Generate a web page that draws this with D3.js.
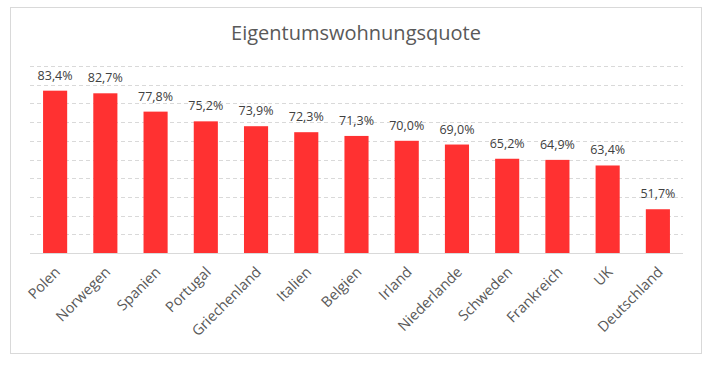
<!DOCTYPE html>
<html>
<head>
<meta charset="utf-8">
<script src="https://cdn.jsdelivr.net/npm/d3@7"></script>
<style>
  body { margin: 0; background: #fff; }
  svg { font-family: "Open Sans", sans-serif; }
</style>
</head>
<body>
<svg id="chart" width="709" height="372"></svg>
<script>
// chart data
var countries = ["Polen", "Norwegen", "Spanien", "Portugal", "Griechenland", "Italien",
  "Belgien", "Irland", "Niederlande", "Schweden", "Frankreich", "UK", "Deutschland"];
var quote = [83.4, 82.7, 77.8, 75.2, 73.9, 72.3, 71.3, 70.0, 69.0, 65.2, 64.9, 63.4, 51.7];
var yTicks = [40, 45, 50, 55, 60, 65, 70, 75, 80, 85, 90];
var title = "Eigentumswohnungsquote";

var svg = d3.select("#chart");

// outer frame
svg.append("rect")
  .attr("x", 10.5).attr("y", 7.5)
  .attr("width", 691).attr("height", 346)
  .attr("fill", "#fff")
  .attr("stroke", "#d9d9d9");

svg.append("text")
  .attr("x", 356).attr("y", 40)
  .attr("text-anchor", "middle")
  .attr("font-size", 20)
  .attr("fill", "#595959")
  .text(title);

xScale = d3.scaleBand()
  .domain(countries)
  .range([30, 683])
  .paddingInner(0.52)
  .paddingOuter(0.26);

yScale = d3.scaleLinear()
  .domain([40, 90])
  .range([253, 66]);

// dashed gridlines (not the baseline)
svg.append("g")
  .selectAll("line")
  .data(yTicks.slice(1))
  .join("line")
  .attr("x1", 30).attr("x2", 683)
  .attr("y1", function (d) { return Math.round(yScale(d)) + 0.5; })
  .attr("y2", function (d) { return Math.round(yScale(d)) + 0.5; })
  .attr("stroke", "#d9d9d9")
  .attr("stroke-dasharray", "4,3");

svg.append("g")
  .selectAll("rect")
  .data(quote)
  .join("rect")
  .attr("x", function (d, i) { return xScale(countries[i]); })
  .attr("width", xScale.bandwidth())
  .attr("y", function (d) { return yScale(d); })
  .attr("height", function (d) { return yScale(40) - yScale(d); })
  .attr("fill", "#ff3131");

// value labels
svg.append("g")
  .selectAll("text")
  .data(quote)
  .join("text")
  .attr("x", function (d, i) { return xScale(countries[i]) + xScale.bandwidth() / 2; })
  .attr("y", function (d) { return yScale(d) - 11; })
  .attr("text-anchor", "middle")
  .attr("font-size", 12.5)
  .attr("fill", "#404040")
  .text(function (d) { return d.toFixed(1).replace(".", ",") + "%"; });

// bottom axis
baxis = d3.axisBottom(xScale).tickSize(0).tickPadding(0);

var ax = svg.append("g")
  .attr("transform", "translate(0," + Math.round(yScale(40)) + ")")
  .call(baxis);

ax.select(".domain")
  .attr("stroke", "#d9d9d9")
  .attr("d", "M30,0.5H683");

ax.selectAll("text")
  .attr("font-family", "Open Sans, sans-serif")
  .attr("font-size", 14.5)
  .attr("fill", "#595959")
  .attr("text-anchor", "end")
  .attr("dy", null)
  .attr("transform", "translate(6,20) rotate(-45)");
</script>
</body>
</html>
